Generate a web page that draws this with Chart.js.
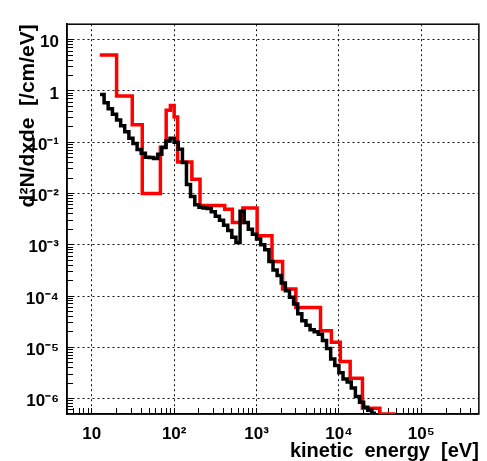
<!DOCTYPE html>
<html>
<head>
<meta charset="utf-8">
<script src="https://cdn.jsdelivr.net/npm/chart.js@4"></script>
<style>
  html, body { margin: 0; padding: 0; background: #fff; }
  #wrap { width: 487px; height: 461px; }
</style>
</head>
<body>
<div id="wrap"><canvas id="spectrum"></canvas></div>
<script>
// black histogram: bin low edges [eV] (last entry = upper edge of last bin) and contents
const blackEdges = [12.6, 14.1, 15.8, 17.8, 20.0, 22.4, 25.1, 28.2, 31.6, 35.5,
  39.8, 44.7, 50.1, 56.2, 63.1, 70.8, 79.4, 89.1, 100, 112,
  126, 141, 158, 178, 200, 224, 251, 282, 316, 355,
  398, 447, 501, 562, 631, 708, 794, 891, 1000, 1122,
  1259, 1413, 1585, 1778, 1995, 2239, 2512, 2818, 3162, 3548,
  3981, 4467, 5012, 5623, 6310, 7079, 7943, 8913, 10000, 11220,
  12589, 14125, 15849, 17783, 19953, 22387, 25119, 28184];
const blackValues = [0.85, 0.59, 0.45, 0.35, 0.27, 0.21, 0.16, 0.12, 0.094, 0.072,
  0.061, 0.051, 0.050, 0.048, 0.058, 0.079, 0.105, 0.12, 0.10, 0.073,
  0.040, 0.015, 0.0087, 0.006, 0.0054, 0.0052, 0.0051, 0.0044, 0.0036, 0.0030,
  0.0024, 0.0019, 0.0014, 0.0011, 0.0045, 0.0027, 0.0020, 0.0016, 0.0013, 0.0010,
  8e-4, 4.7e-4, 3.2e-4, 2.5e-4, 1.8e-4, 1.26e-4, 9.5e-5, 7e-5, 4.5e-5, 3.3e-5,
  2.7e-5, 2.2e-5, 2.0e-5, 1.8e-5, 1.35e-5, 9.5e-6, 5.9e-6, 4.4e-6, 3.2e-6, 2.4e-6,
  2.1e-6, 1.6e-6, 1.1e-6, 8.5e-7, 6.8e-7, 5.9e-7, 5.2e-7];

// red histogram
const redEdges = [12.5, 20, 31, 41, 68, 80, 90, 100, 110, 164, 206, 411, 509, 683,
  1016, 1540, 2070, 3000, 5980, 8100, 10400, 13700, 19300, 31400, 48400];
const redValues = [5, 0.8, 0.22, 0.01, 0.08, 0.42, 0.52, 0.31, 0.041, 0.019, 0.0058,
  0.0049, 0.0027, 0.0052, 0.0015, 4.7e-4, 1.37e-4, 6e-5, 2.1e-5, 1.26e-5, 5.3e-6,
  2.5e-6, 6.5e-7, 5e-7];

const xMajor = [10, 1e2, 1e3, 1e4, 1e5];
const xTickLabels = ['10', '10²', '10³', '10⁴', '10⁵'];
const yMajor = [10, 1, 1e-1, 1e-2, 1e-3, 1e-4, 1e-5, 1e-6];
const yTickLabels = ['10', '1', '10⁻¹', '10⁻²', '10⁻³', '10⁻⁴', '10⁻⁵', '10⁻⁶'];

const FONT = 'Liberation Sans, Arial, Helvetica, sans-serif';

// one point per edge, stepped 'before' holds each bin's value up to the next edge
function histPoints(edges, values) {
  return edges.map((e, i) => ({ x: e, y: values[Math.min(i, values.length - 1)] }));
}

// ROOT-like log ticks: 1..9 per decade, 1 = major
function logTicks(scale) {
  const ticks = [];
  const lo = Math.floor(Math.log10(scale.min)), hi = Math.ceil(Math.log10(scale.max));
  for (let k = lo; k <= hi; k++) {
    for (let m = 1; m <= 9; m++) {
      const v = m * Math.pow(10, k);
      if (v > scale.min && v < scale.max) ticks.push({ value: v, major: m === 1 });
    }
  }
  scale.ticks = ticks;
}

function labelFor(majors, labels) {
  return (value) => {
    const i = majors.findIndex(m => Math.abs(Math.log10(m) - Math.log10(value)) < 1e-6);
    return i < 0 ? '' : labels[i];
  };
}

const frame = {
  id: 'frame',
  beforeDatasetsDraw(chart) {
    const { ctx, chartArea: a } = chart;
    ctx.save();
    ctx.strokeStyle = '#000';
    ctx.lineWidth = 1.5;
    ctx.strokeRect(a.left, a.top, a.right - a.left, a.bottom - a.top);
    ctx.restore();
  }
};

const gridOpts = {
  color: ctx => (ctx.tick && ctx.tick.major) ? '#111' : 'rgba(0,0,0,0)',
  lineWidth: 1,
  tickColor: '#000',
  tickWidth: 1,
  tickLength: -6
};

new Chart(document.getElementById('spectrum'), {
  type: 'line',
  data: {
    datasets: [{
      label: 'black',
      data: histPoints(blackEdges, blackValues),
      borderColor: '#000',
      borderWidth: 3.5,
      stepped: 'before',
      pointRadius: 0,
      fill: false
    }, {
      label: 'red',
      data: histPoints(redEdges, redValues),
      borderColor: '#ff0000',
      borderWidth: 3.5,
      stepped: 'before',
      pointRadius: 0,
      fill: false
    }]
  },
  options: {
    responsive: true,
    maintainAspectRatio: false,
    animation: false,
    layout: { padding: { left: 0, top: 11, right: 6, bottom: 0 } },
    plugins: { legend: { display: false }, tooltip: { enabled: false } },
    scales: {
      x: {
        type: 'logarithmic',
        min: 5, max: 5e5,
        afterBuildTicks: logTicks,
        afterFit: s => { s.height = 47; },
        grid: gridOpts,
        border: { display: true, color: '#000', width: 1.5, dash: [2, 3] },
        ticks: {
          autoSkip: false, maxRotation: 0, padding: 16, color: '#000',
          font: { family: FONT, size: 17, weight: 'bold' },
          callback: labelFor(xMajor, xTickLabels)
        },
        title: {
          display: true, text: 'kinetic  energy  [eV]', align: 'end', color: '#000',
          font: { family: FONT, size: 20, weight: 'bold', lineHeight: 1 },
          padding: { top: 0, bottom: 0 }
        }
      },
      y: {
        type: 'logarithmic',
        min: 5e-7, max: 20,
        afterBuildTicks: logTicks,
        afterFit: s => { s.width = 67; },
        grid: gridOpts,
        border: { display: true, color: '#000', width: 1.5, dash: [2, 3] },
        ticks: {
          autoSkip: false, padding: 14, labelOffset: 3, color: '#000',
          font: { family: FONT, size: 17, weight: 'bold' },
          callback: labelFor(yMajor, yTickLabels)
        },
        title: {
          display: true, text: 'd²N/dxde  [/cm/eV]', align: 'end', color: '#000',
          font: { family: FONT, size: 21, weight: 'bold', lineHeight: 1 },
          padding: { top: 18, bottom: 0 }
        }
      }
    }
  },
  plugins: [frame]
});
</script>
</body>
</html>
